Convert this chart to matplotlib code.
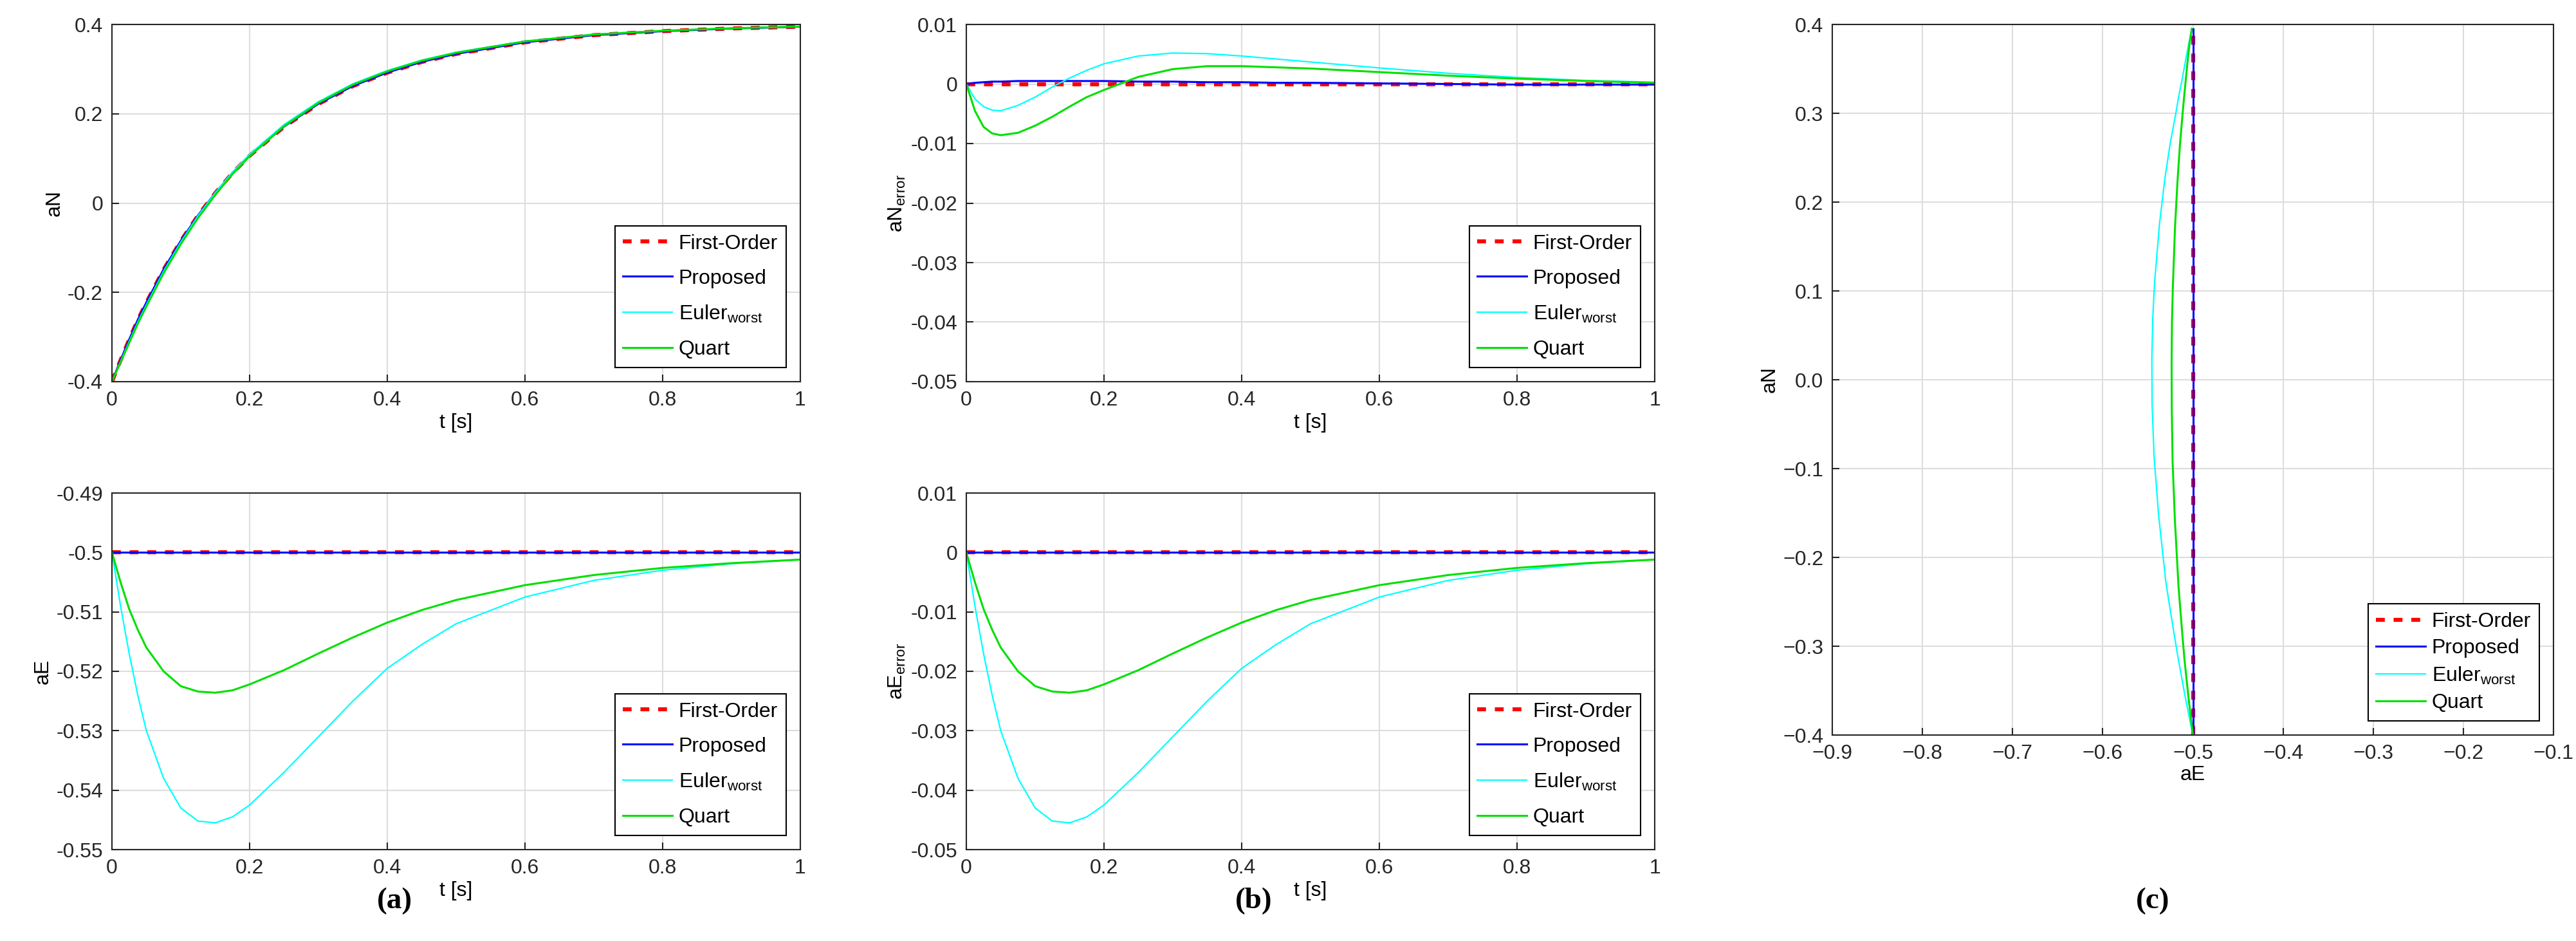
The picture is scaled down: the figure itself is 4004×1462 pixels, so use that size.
import numpy as np
import matplotlib.pyplot as plt
from matplotlib.ticker import FuncFormatter

# time grid of sampled points
t = [0, 0.0125, 0.025, 0.0375, 0.05, 0.075, 0.1, 0.125, 0.15, 0.175, 0.2,
     0.25, 0.3, 0.35, 0.4, 0.45, 0.5, 0.6, 0.7, 0.8, 0.9, 1.0]

aN_first = [-0.400, -0.352, -0.306, -0.262, -0.223, -0.149, -0.085, -0.028, 0.022, 0.067, 0.106,
            0.171, 0.222, 0.262, 0.292, 0.316, 0.334, 0.360, 0.376, 0.385, 0.391, 0.395]

# aN errors
aNerr_first = [0] * 22
aNerr_prop = [0, 0.0002, 0.0003, 0.0004, 0.0004, 0.0005, 0.0005, 0.0005, 0.0005, 0.0005, 0.0005,
              0.0004, 0.0004, 0.0003, 0.0003, 0.0002, 0.0002, 0.0001, 0.0, -0.0001, -0.0001, -0.0001]
aNerr_euler = [0, -0.0025, -0.0038, -0.0044, -0.0045, -0.0036, -0.0022, -0.0005, 0.001, 0.0023, 0.0034,
               0.0047, 0.0052, 0.0051, 0.0047, 0.0042, 0.0037, 0.0027, 0.0018, 0.0011, 0.0006, 0.0003]
aNerr_quart = [0, -0.0045, -0.0072, -0.0083, -0.0086, -0.0082, -0.007, -0.0055, -0.0038, -0.0022, -0.001,
               0.0012, 0.0025, 0.003, 0.003, 0.0028, 0.0026, 0.002, 0.0014, 0.0009, 0.0005, 0.0002]

# aE errors
aEerr_first = [0] * 22
aEerr_prop = [0] * 22
aEerr_euler = [0, -0.009, -0.017, -0.024, -0.030, -0.038, -0.043, -0.0452, -0.0455, -0.0445, -0.0425,
               -0.037, -0.031, -0.025, -0.0195, -0.0155, -0.012, -0.0075, -0.0047, -0.003, -0.0019, -0.0012]
aEerr_quart = [0, -0.005, -0.0095, -0.013, -0.016, -0.020, -0.0225, -0.0234, -0.0236, -0.0232, -0.0222,
               -0.0198, -0.017, -0.0143, -0.0118, -0.0097, -0.008, -0.0055, -0.0038, -0.0026, -0.0018, -0.0012]

aE_ref = -0.5

names = ['First-Order', 'Proposed', r'Euler$_{\mathrm{worst}}$', 'Quart']
styles = [dict(color='red', ls='--', lw=4.5, dashes=(2.2, 2.2)),
          dict(color='blue', lw=2.2),
          dict(color='cyan', lw=1.6),
          dict(color='#00e000', lw=2.2)]

aNerr = [aNerr_first, aNerr_prop, aNerr_euler, aNerr_quart]
aEerr = [aEerr_first, aEerr_prop, aEerr_euler, aEerr_quart]
aN = [np.array(aN_first) + np.array(e) for e in aNerr]
aE = [aE_ref + np.array(e) for e in aEerr]

plt.rcParams['font.family'] = ['Liberation Sans', 'DejaVu Sans']
plt.rcParams['mathtext.fontset'] = 'custom'
plt.rcParams['mathtext.rm'] = 'Liberation Sans'
plt.rcParams['font.size'] = 23

fig = plt.figure(figsize=(40.05, 14.62), dpi=100)
W, H = 4005, 1462
gfmt = FuncFormatter(lambda v, p: f"{v:.10g}" if abs(v) > 1e-12 else "0")

def mkax(x0, x1, y0, y1):
  return fig.add_axes([x0 / W, 1 - y1 / H, (x1 - x0) / W, (y1 - y0) / H])

def style(ax, spacing=0.75):
  ax.grid(True, color='#dddddd', lw=1.5)
  ax.set_axisbelow(True)
  ax.tick_params(direction='in', length=8, width=1.5, pad=10, color='#262626', labelcolor='#262626')
  for s in ax.spines.values():
    s.set_color('#262626')
    s.set_linewidth(1.5)
  leg = ax.legend(loc='lower right', fancybox=False, edgecolor='black', framealpha=1,
                  handlelength=2.4, borderaxespad=0.7, labelspacing=spacing, borderpad=0.4,
                  handletextpad=0.3)
  leg.get_frame().set_linewidth(1.5)

def draw_t(ax, ys):
  for y, n, s in zip(ys, names, styles):
    ax.plot(t, y, label=n, **s)
  ax.set_xlim(0, 1)
  ax.set_xlabel('t [s]', labelpad=4)
  ax.xaxis.set_major_formatter(gfmt)
  ax.yaxis.set_major_formatter(gfmt)

ax = mkax(174, 1244, 38, 593)
draw_t(ax, aN)
ax.set_ylim(-0.4, 0.4)
ax.set_yticks([-0.4, -0.2, 0, 0.2, 0.4])
ax.set_ylabel('aN')
style(ax)

ax = mkax(174, 1244, 766, 1320)
draw_t(ax, aE)
ax.set_ylim(-0.55, -0.49)
ax.set_yticks(np.round(np.arange(-0.55, -0.485, 0.01), 2))
ax.set_ylabel('aE')
style(ax)

ax = mkax(1502, 2572, 38, 593)
draw_t(ax, aNerr)
ax.set_ylim(-0.05, 0.01)
ax.set_yticks(np.round(np.arange(-0.05, 0.0105, 0.01), 2))
ax.set_ylabel(r'aN$_{\mathrm{error}}$')
style(ax)

ax = mkax(1502, 2572, 766, 1320)
draw_t(ax, aEerr)
ax.set_ylim(-0.05, 0.01)
ax.set_yticks(np.round(np.arange(-0.05, 0.0105, 0.01), 2))
ax.set_ylabel(r'aE$_{\mathrm{error}}$')
style(ax)

ax = mkax(2848, 3969, 38, 1142)
for x, y, n, s in zip(aE, aN, names, styles):
  ax.plot(x, y, label=n, **s)
ax.set_xlim(-0.9, -0.1)
ax.set_ylim(-0.4, 0.4)
ax.set_xticks(np.round(np.arange(-0.9, -0.05, 0.1), 1))
ax.set_yticks(np.round(np.arange(-0.4, 0.405, 0.1), 1))
ax.set_xlabel('aE', labelpad=2)
ax.set_ylabel('aN')
style(ax, spacing=0.35)

for x, lab in [(613, '(a)'), (1949, '(b)'), (3346, '(c)')]:
  fig.text(x / W, 1 - 1400 / H, lab, ha='center', va='center', fontsize=34,
           fontweight='bold', family='Liberation Serif')

fig.savefig('out.png')
